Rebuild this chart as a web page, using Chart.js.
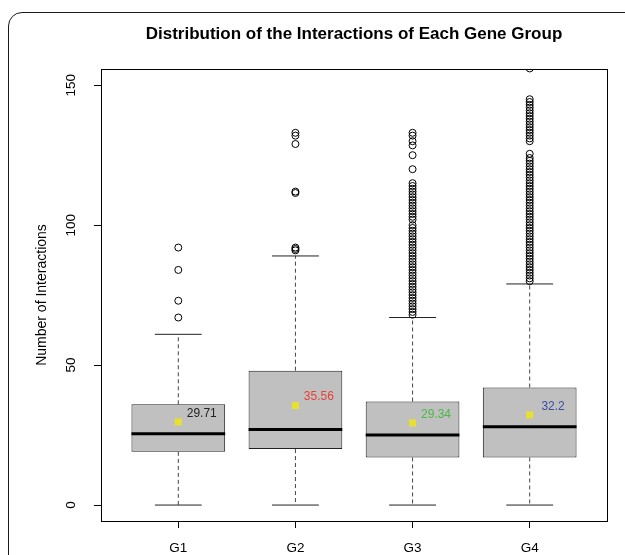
<!DOCTYPE html>
<html>
<head>
<meta charset="utf-8">
<script src="https://cdn.jsdelivr.net/npm/chart.js@4/dist/chart.umd.min.js"></script>
<style>
  body { margin: 0; background: #fff; overflow: hidden; }
  #frame {
    position: absolute; left: 8px; top: 12px; width: 700px; height: 620px;
    border: 1.5px solid #1a1a1a; border-radius: 14px;
  }
  #wrap { position: absolute; left: 0; top: 0; width: 625px; height: 555px; }
</style>
</head>
<body>
<div id="frame"></div>
<div id="wrap"><canvas id="boxChart" width="625" height="555"></canvas></div>
<script>
// groups and summary stats
const categories = ['G1', 'G2', 'G3', 'G4'];
const lowerWhisker = [0, 0, 0, 0];
const q1 = [19, 20, 17, 17];
const median = [25.5, 27, 25, 28];
const q3 = [36, 48, 37, 42];
const upperWhisker = [61, 89, 67, 79];
const means = [29.71, 35.56, 29.34, 32.2];
const meanColors = ['#222222', '#e8403a', '#4cb848', '#3c4ea0'];

const outliersG1 = [92, 84, 73, 67];
const outliersG2 = [133, 132, 129, 112, 111.5, 92, 91.5, 91];
const outliersG3 = [133, 132, 130, 128.5, 125, 120, 115, 114, 113, 112, 111, 110, 109, 108, 107,
  106, 105, 104, 103, 102, 100, 99, 98, 97, 96, 95, 94, 93, 92, 91, 90, 89, 88, 87, 86, 85, 84,
  83, 82, 81, 80, 79, 78, 77, 76, 75, 74, 73, 72, 71, 70, 69, 68];
const outliersG4 = [156, 145, 144, 143, 142, 141, 140, 139, 138, 137, 136, 135, 134, 133, 132,
  131, 130, 125.5, 124, 123, 122, 121, 120, 119, 118, 117, 116, 115, 114, 113, 112, 111, 110,
  109, 108, 107, 106, 105, 104, 103, 102, 101, 100, 99, 98, 97, 96, 95, 94, 93, 92, 91, 90, 89,
  88, 87, 86, 85, 84, 83, 82, 81, 80];
const outliers = [outliersG1, outliersG2, outliersG3, outliersG4];

const yTicks = [0, 50, 100, 150];

const FONT = 'Liberation Sans, Arial, Helvetica, sans-serif';
const capHalf = 0.2;

// build segment lists (null breaks the line between groups)
function segments(fn) {
  const pts = [];
  categories.forEach((c, i) => {
    fn(i).forEach(p => pts.push(p));
    pts.push({ x: i + 1, y: null });
  });
  return pts;
}

const whiskerPts = segments(i => [
  { x: i + 1, y: q3[i] }, { x: i + 1, y: upperWhisker[i] }, { x: i + 1, y: null },
  { x: i + 1, y: q1[i] }, { x: i + 1, y: lowerWhisker[i] }
]);
const capPts = segments(i => [
  { x: i + 1 - capHalf, y: upperWhisker[i] }, { x: i + 1 + capHalf, y: upperWhisker[i] }, { x: i + 1, y: null },
  { x: i + 1 - capHalf, y: lowerWhisker[i] }, { x: i + 1 + capHalf, y: lowerWhisker[i] }
]);
const medianPts = segments(i => [
  { x: i + 1 - 0.4, y: median[i] }, { x: i + 1 + 0.4, y: median[i] }
]);

const plotDecor = {
  id: 'plotDecor',
  afterDatasetsDraw(chart) {
    const { ctx, chartArea: a, scales: { x, y } } = chart;
    ctx.save();
    // mean labels
    ctx.font = '12px ' + FONT;
    ctx.textAlign = 'center';
    ctx.textBaseline = 'middle';
    means.forEach((m, i) => {
      ctx.fillStyle = meanColors[i];
      ctx.fillText(String(m), x.getPixelForValue(i + 1.2), y.getPixelForValue(m + 3));
    });
    // box around plot region
    ctx.strokeStyle = '#000';
    ctx.lineWidth = 1;
    ctx.strokeRect(Math.round(a.left) + 0.5, Math.round(a.top) + 0.5,
      Math.round(a.right - a.left), Math.round(a.bottom - a.top));
    // main title, centred over plot region like R
    ctx.fillStyle = '#000';
    ctx.font = 'bold 17px ' + FONT;
    ctx.fillText('Distribution of the Interactions of Each Gene Group', (a.left + a.right) / 2, 34);
    ctx.restore();
  }
};

new Chart(document.getElementById('boxChart'), {
  type: 'bar',
  data: {
    datasets: [
      {
        type: 'bar',
        data: categories.map((c, i) => ({ x: i + 1, y: [q1[i], q3[i]] })),
        backgroundColor: '#bfc0bf',
        borderColor: '#222',
        borderWidth: 1,
        borderSkipped: false,
        barPercentage: 0.8,
        categoryPercentage: 1,
        order: 5
      },
      {
        type: 'line',
        data: whiskerPts,
        borderColor: '#444',
        borderWidth: 1,
        borderDash: [4, 3],
        pointRadius: 0,
        spanGaps: false,
        order: 4
      },
      {
        type: 'line',
        data: capPts,
        borderColor: '#222',
        borderWidth: 1,
        pointRadius: 0,
        spanGaps: false,
        order: 3
      },
      {
        type: 'line',
        data: medianPts,
        borderColor: '#000',
        borderWidth: 3,
        pointRadius: 0,
        spanGaps: false,
        order: 2
      },
      {
        type: 'scatter',
        data: outliers.flatMap((arr, i) => arr.map(v => ({ x: i + 1, y: v }))),
        pointStyle: 'circle',
        pointRadius: 3.5,
        borderColor: '#000',
        borderWidth: 1,
        backgroundColor: 'rgba(0,0,0,0)',
        order: 1
      },
      {
        type: 'scatter',
        data: means.map((m, i) => ({ x: i + 1, y: m })),
        pointStyle: 'rect',
        pointRadius: 5,
        borderWidth: 0,
        backgroundColor: '#e8e030',
        order: 0
      }
    ]
  },
  options: {
    responsive: false,
    animation: false,
    events: [],
    layout: { padding: { top: 69, right: 18, bottom: 0, left: 0 } },
    plugins: { legend: { display: false }, tooltip: { enabled: false }, title: { display: false } },
    scales: {
      x: {
        type: 'linear',
        min: 0.34,
        max: 4.66,
        offset: false,
        afterBuildTicks: s => { s.ticks = categories.map((c, i) => ({ value: i + 1 })); },
        afterFit: s => { s.height = 34; },
        grid: { display: true, offset: false, drawOnChartArea: false, drawTicks: true, tickLength: 7, color: '#000' },
        border: { display: false },
        ticks: {
          callback: v => categories[v - 1],
          color: '#000',
          font: { family: FONT, size: 13.5 },
          padding: 12,
          maxRotation: 0
        }
      },
      y: {
        min: -5.7,
        max: 155.8,
        afterBuildTicks: s => { s.ticks = yTicks.map(v => ({ value: v })); },
        afterFit: s => { s.width = 101; },
        grid: { display: true, drawOnChartArea: false, drawTicks: true, tickLength: 7, color: '#000' },
        border: { display: false },
        ticks: {
          color: '#000',
          font: { family: FONT, size: 13.5 },
          padding: 11,
          minRotation: 90,
          maxRotation: 90,
          crossAlign: 'center'
        },
        title: {
          display: true,
          text: 'Number of Interactions',
          color: '#000',
          font: { family: FONT, size: 14 },
          padding: { top: 34, bottom: 0 }
        }
      }
    }
  },
  plugins: [plotDecor]
});
</script>
</body>
</html>
